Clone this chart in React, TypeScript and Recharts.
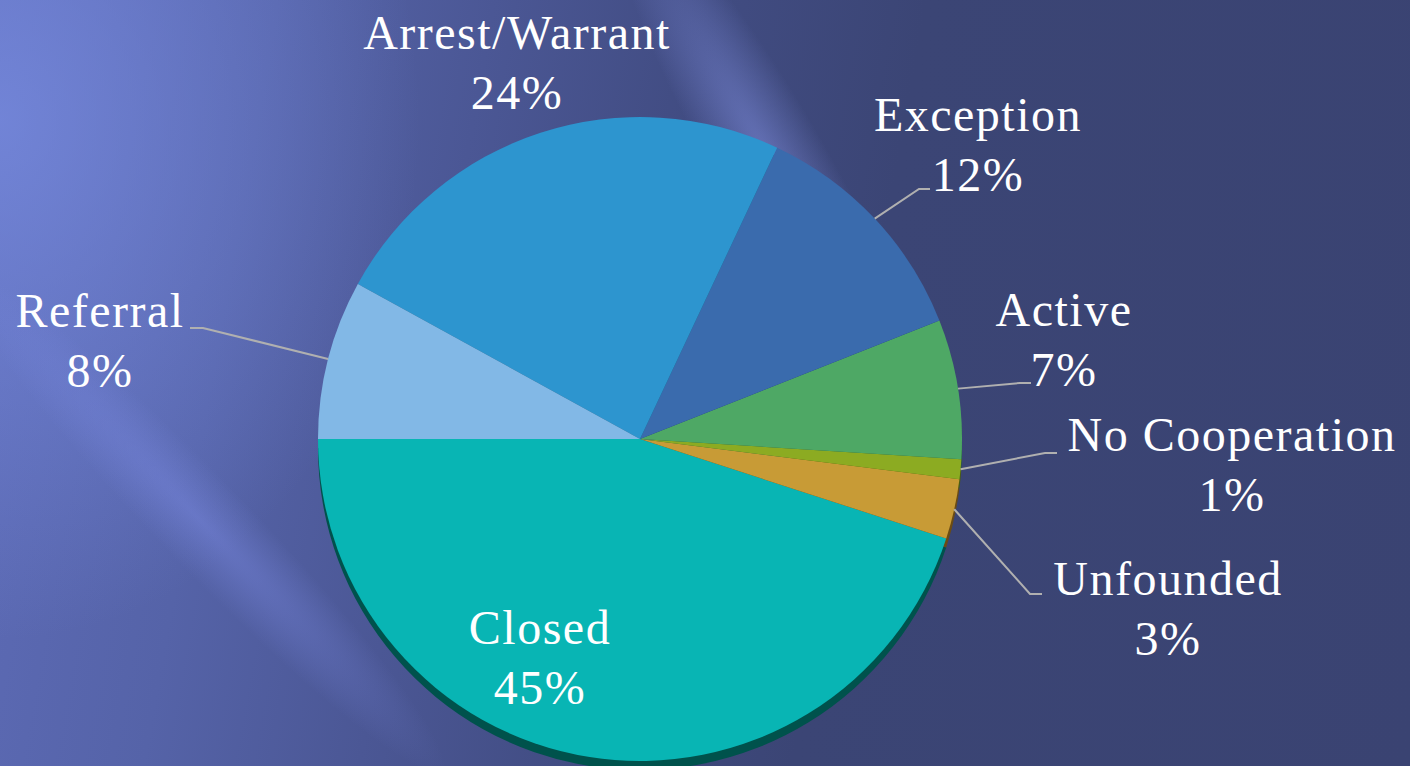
import { PieChart, Pie, Cell } from 'recharts';

const categories = ['Closed', 'Unfounded', 'No Cooperation', 'Active', 'Exception', 'Arrest/Warrant', 'Referral'];
const shares = [45, 3, 1, 7, 12, 24, 8];
const sliceColors = ['#08b5b4', '#c89b36', '#8cab22', '#4ea865', '#3a6bad', '#2d95cf', '#82b8e6'];
const rimColors = ['#00524c', '#6b4c14', '#4a5e10', '#2b5e38', '#223f68', '#1a5a7e', '#4a6f8e'];

const chartData = categories.map((name, i) => ({ name, value: shares[i] }));

// where each label sits, as offsets from the pie centre
type Spot = { x: number; y: number; elbow?: [number, number]; end?: [number, number] };
const labelSpots: Record<string, Spot> = {
  'Closed': { x: -100, y: 205 },
  'Arrest/Warrant': { x: -123, y: -390 },
  'Exception': { x: 338, y: -308, elbow: [279, -250], end: [290, -250] },
  'Active': { x: 424, y: -113, elbow: [380, -56], end: [391, -56] },
  'No Cooperation': { x: 592, y: 12, elbow: [405, 14], end: [417, 14] },
  'Unfounded': { x: 528, y: 156, elbow: [390, 155], end: [402, 155] },
  'Referral': { x: -540, y: -112, elbow: [-437, -111], end: [-450, -111] },
};

const RAD = Math.PI / 180;
const FONT = '"Liberation Serif", "Times New Roman", serif';

function renderLabel(props: any) {
  const { cx, cy, midAngle, outerRadius, percent, name } = props;
  const spot = labelSpots[name];
  if (!spot) return null;
  const tx = cx + spot.x;
  const ty = cy + spot.y;
  let line = null;
  if (spot.elbow && spot.end) {
    const sx = cx + outerRadius * Math.cos(-midAngle * RAD);
    const sy = cy + outerRadius * Math.sin(-midAngle * RAD);
    const pts = `${sx},${sy} ${cx + spot.elbow[0]},${cy + spot.elbow[1]} ${cx + spot.end[0]},${cy + spot.end[1]}`;
    line = <polyline points={pts} fill="none" stroke="#b0b0b0" strokeWidth={2} />;
  }
  return (
    <g>
      {line}
      <text x={tx} y={ty} textAnchor="middle" fill="#ffffff" fontSize={48} fontFamily={FONT} letterSpacing={1.5}>
        {name}
      </text>
      <text x={tx} y={ty + 60} textAnchor="middle" fill="#ffffff" fontSize={48} fontFamily={FONT} letterSpacing={1.5}>
        {Math.round(percent * 100)}%
      </text>
    </g>
  );
}

const streak = (left: number, top: number, w: number, h: number, deg: number, color: string) => (
  <div
    style={{
      position: 'absolute',
      left: left - w / 2,
      top: top - h / 2,
      width: w,
      height: h,
      transform: `rotate(${deg}deg)`,
      background: `radial-gradient(ellipse closest-side, ${color}, rgba(0,0,0,0))`,
    }}
  />
);

export default function App() {
  return (
    <div
      style={{
        position: 'absolute',
        left: 0,
        top: 0,
        width: 1410,
        height: 766,
        overflow: 'hidden',
        background:
          'radial-gradient(ellipse 420px 520px at 0px 120px, rgba(120,140,225,0.75), rgba(120,140,225,0)),' +
          'linear-gradient(100deg, #5e6cb8 0%, #5563a8 18%, #4b5795 32%, #414c82 46%, #3b4575 60%, #3a4372 100%)',
      }}
    >
      {streak(770, 160, 110, 600, -30, 'rgba(135,150,235,0.5)')}
      {streak(200, 520, 90, 700, -44, 'rgba(125,140,230,0.45)')}
      <div style={{ position: 'absolute', left: 0, top: 0 }}>
        <PieChart width={1410} height={766}>
          <Pie
            data={chartData}
            dataKey="value"
            nameKey="name"
            cx={635}
            cy={443}
            outerRadius={322}
            startAngle={180}
            endAngle={540}
            stroke="none"
            isAnimationActive={false}
          >
            {chartData.map((d, i) => (
              <Cell key={d.name} fill={rimColors[i]} />
            ))}
          </Pie>
          <Pie
            data={chartData}
            dataKey="value"
            nameKey="name"
            cx={635}
            cy={434}
            outerRadius={322}
            startAngle={180}
            endAngle={540}
            stroke="none"
            label={renderLabel}
            labelLine={false}
            isAnimationActive={false}
          >
            {chartData.map((d, i) => (
              <Cell key={d.name} fill={sliceColors[i]} />
            ))}
          </Pie>
        </PieChart>
      </div>
    </div>
  );
}
